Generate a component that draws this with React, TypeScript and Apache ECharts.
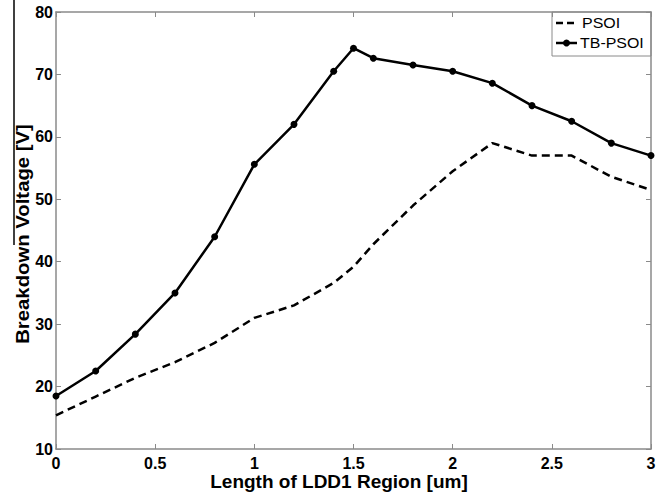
import React, { useEffect, useRef } from "react";
import * as echarts from "echarts";

const lengths = [0, 0.2, 0.4, 0.6, 0.8, 1.0, 1.2, 1.4, 1.5, 1.6, 1.8, 2.0, 2.2, 2.4, 2.6, 2.8, 3.0];
const psoi = [15.4, 18.4, 21.4, 23.9, 27.0, 31.0, 33.0, 36.6, 39.2, 42.8, 49.0, 54.5, 59.0, 57.0, 57.0, 53.6, 51.5];
const tbPsoi = [18.5, 22.5, 28.4, 35.0, 44.0, 55.6, 62.0, 70.5, 74.2, 72.6, 71.5, 70.5, 68.6, 65.0, 62.5, 59.0, 57.0];
const seriesNames = ["PSOI", "TB-PSOI"];
const xAxisTitle = "Length of LDD1 Region [um]";
const yAxisTitle = "Breakdown Voltage [V]";

const FONT = "'Liberation Sans', Arial, sans-serif";

export default function App() {
  const ref = useRef<HTMLDivElement>(null);
  useEffect(() => {
    if (!ref.current) return;
    const chart = echarts.init(ref.current, undefined, { renderer: "svg" });
    const axisGray = "#8a8a8a";
    const labelStyle = { color: "#000", fontWeight: "bold" as const, fontSize: 16, fontFamily: FONT };
    const legendText = { fill: "#000", font: `14px ${FONT}`, textVerticalAlign: "middle" as const };
    chart.setOption({
      animation: false,
      backgroundColor: "#fff",
      grid: { left: 56, right: 15, top: 12, bottom: 43 },
      xAxis: [
        {
          type: "value",
          min: 0,
          max: 3,
          interval: 0.5,
          axisLine: { show: true, lineStyle: { color: axisGray, width: 1.5 } },
          axisTick: { show: true, inside: true, length: 5, lineStyle: { color: axisGray } },
          splitLine: { show: false },
          axisLabel: { ...labelStyle, margin: 6 },
        },
        {
          type: "value",
          position: "top",
          min: 0,
          max: 3,
          interval: 0.5,
          axisLine: { show: true, onZero: false, lineStyle: { color: axisGray, width: 1.5 } },
          axisTick: { show: true, inside: true, length: 5, lineStyle: { color: axisGray } },
          splitLine: { show: false },
          axisLabel: { show: false },
        },
      ],
      yAxis: [
        {
          type: "value",
          min: 10,
          max: 80,
          interval: 10,
          axisLine: { show: true, lineStyle: { color: axisGray, width: 1.5 } },
          axisTick: { show: true, inside: true, length: 5, lineStyle: { color: axisGray } },
          splitLine: { show: false },
          axisLabel: { ...labelStyle, margin: 3 },
        },
        {
          type: "value",
          position: "right",
          min: 10,
          max: 80,
          interval: 10,
          axisLine: { show: true, onZero: false, lineStyle: { color: axisGray, width: 1.5 } },
          axisTick: { show: true, inside: true, length: 5, lineStyle: { color: axisGray } },
          splitLine: { show: false },
          axisLabel: { show: false },
        },
      ],
      graphic: [
        {
          type: "text",
          x: 22,
          y: 234,
          rotation: Math.PI / 2,
          scaleX: 1.07,
          style: {
            text: yAxisTitle,
            fill: "#000",
            font: `bold 19px ${FONT}`,
            textAlign: "center",
            textVerticalAlign: "middle",
          },
        },
        {
          type: "text",
          x: 339,
          y: 481,
          style: {
            text: xAxisTitle,
            fill: "#000",
            font: `bold 19px ${FONT}`,
            textAlign: "center",
            textVerticalAlign: "middle",
          },
        },
        {
          type: "line",
          shape: { x1: 14, y1: 0, x2: 14, y2: 245 },
          style: { stroke: "#000", lineWidth: 1.5 },
        },
        {
          type: "group",
          z: 100,
          children: [
            {
              type: "rect",
              shape: { x: 552, y: 12, width: 99, height: 44 },
              style: { fill: "#fff", stroke: axisGray, lineWidth: 1 },
            },
            {
              type: "line",
              shape: { x1: 556, y1: 23, x2: 577, y2: 23 },
              style: { stroke: "#000", lineWidth: 2.5, lineDash: [7, 4] },
            },
            { type: "text", x: 582, y: 23, scaleX: 1.14, style: { ...legendText, text: seriesNames[0] } },
            {
              type: "line",
              shape: { x1: 556, y1: 43, x2: 577, y2: 43 },
              style: { stroke: "#000", lineWidth: 2.5 },
            },
            { type: "circle", shape: { cx: 566.5, cy: 43, r: 3.5 }, style: { fill: "#000" } },
            { type: "text", x: 580, y: 43, scaleX: 1.14, style: { ...legendText, text: seriesNames[1] } },
          ],
        },
      ],
      series: [
        {
          name: seriesNames[0],
          type: "line",
          data: lengths.map((x, i) => [x, psoi[i]]),
          symbol: "none",
          lineStyle: { color: "#000", width: 2.5, type: [8, 5] },
          itemStyle: { color: "#000" },
        },
        {
          name: seriesNames[1],
          type: "line",
          data: lengths.map((x, i) => [x, tbPsoi[i]]),
          symbol: "circle",
          symbolSize: 7,
          lineStyle: { color: "#000", width: 2.5 },
          itemStyle: { color: "#000" },
        },
      ],
    });
    return () => chart.dispose();
  }, []);
  return <div ref={ref} style={{ width: 666, height: 492, position: "absolute", left: 0, top: 0 }} />;
}
